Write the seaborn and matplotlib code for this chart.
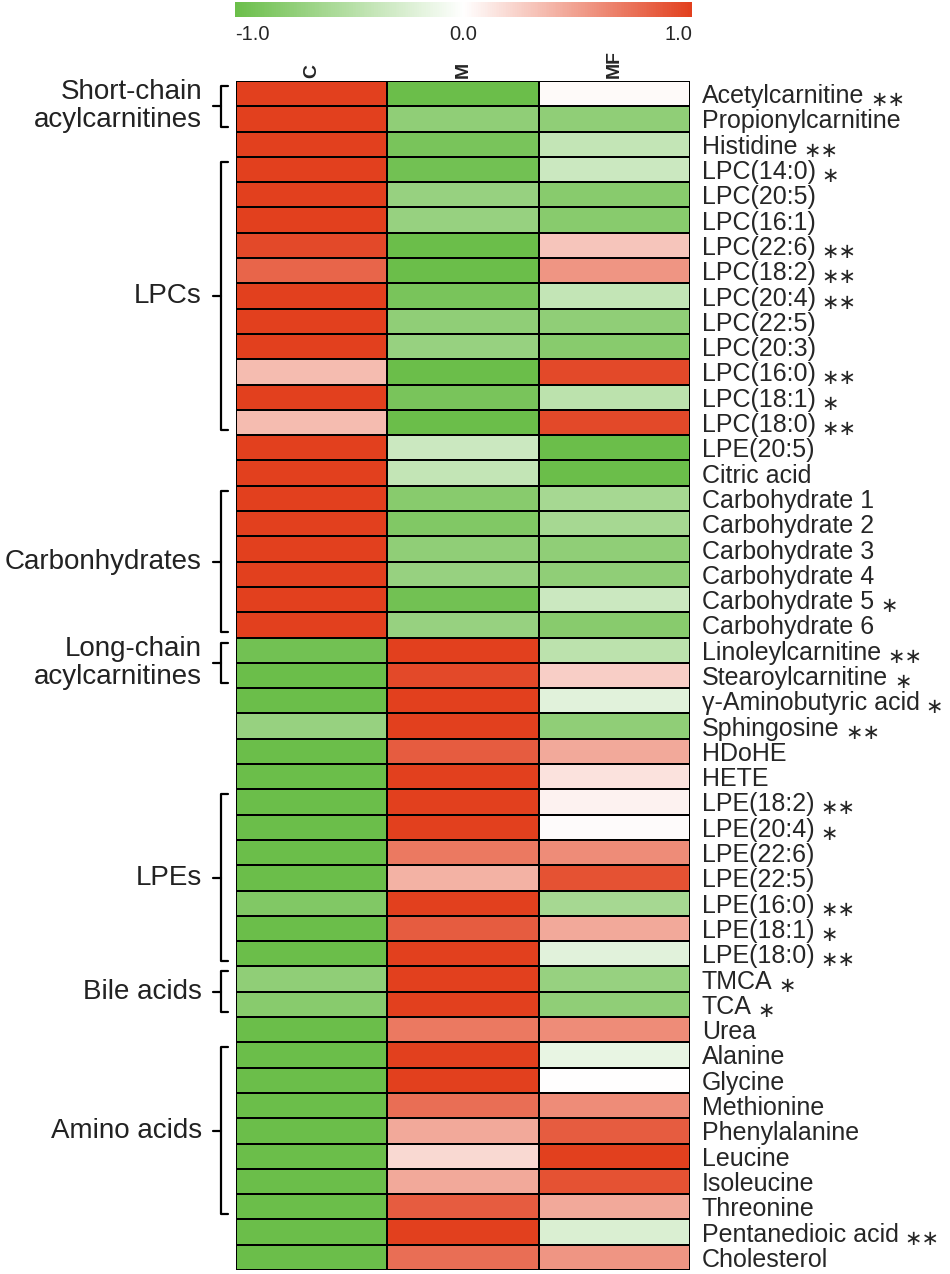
import numpy as np
import pandas as pd
import matplotlib
matplotlib.use('Agg')
import matplotlib.pyplot as plt
import seaborn as sns
from matplotlib.colors import LinearSegmentedColormap
from matplotlib.transforms import blended_transform_factory

# data
metabolites = ['Acetylcarnitine', 'Propionylcarnitine', 'Histidine', 'LPC(14:0)', 'LPC(20:5)',
               'LPC(16:1)', 'LPC(22:6)', 'LPC(18:2)', 'LPC(20:4)', 'LPC(22:5)', 'LPC(20:3)',
               'LPC(16:0)', 'LPC(18:1)', 'LPC(18:0)', 'LPE(20:5)', 'Citric acid',
               'Carbohydrate 1', 'Carbohydrate 2', 'Carbohydrate 3', 'Carbohydrate 4',
               'Carbohydrate 5', 'Carbohydrate 6', 'Linoleylcarnitine', 'Stearoylcarnitine',
               'γ-Aminobutyric acid', 'Sphingosine', 'HDoHE', 'HETE', 'LPE(18:2)', 'LPE(20:4)',
               'LPE(22:6)', 'LPE(22:5)', 'LPE(16:0)', 'LPE(18:1)', 'LPE(18:0)', 'TMCA', 'TCA',
               'Urea', 'Alanine', 'Glycine', 'Methionine', 'Phenylalanine', 'Leucine',
               'Isoleucine', 'Threonine', 'Pentanedioic acid', 'Cholesterol']

stars = ['**', '', '**', '*', '', '', '**', '**', '**', '', '', '**', '*', '**', '', '',
         '', '', '', '', '*', '', '**', '*', '*', '**', '', '', '**', '*', '', '', '**', '*',
         '**', '*', '*', '', '', '', '', '', '', '', '', '**', '']

columns = ['C', 'M', 'MF']

c_vals = [1.0, 1.0, 1.0, 1.0, 1.0, 1.0, 0.95, 0.8, 1.0, 1.0, 1.0, 0.35, 1.0, 0.35, 1.0, 1.0,
          1.0, 1.0, 1.0, 1.0, 1.0, 1.0, -0.95, -1.0, -1.0, -0.7, -1.0, -1.0, -1.0, -1.0,
          -1.0, -1.0, -0.85, -1.0, -1.0, -0.75, -0.8, -1.0, -1.0, -1.0, -1.0, -1.0, -1.0,
          -1.0, -1.0, -1.0, -1.0]
m_vals = [-1.0, -0.75, -0.9, -0.95, -0.7, -0.7, -1.0, -1.0, -0.9, -0.75, -0.7, -1.0, -0.9,
          -1.0, -0.35, -0.4, -0.8, -0.85, -0.75, -0.7, -0.95, -0.7, 1.0, 0.95, 1.0, 1.0,
          0.85, 1.0, 1.0, 1.0, 0.7, 0.4, 1.0, 0.85, 1.0, 1.0, 1.0, 0.7, 1.0, 1.0, 0.75,
          0.45, 0.2, 0.45, 0.85, 1.0, 0.75]
mf_vals = [0.03, -0.75, -0.4, -0.35, -0.8, -0.8, 0.3, 0.55, -0.4, -0.75, -0.8, 0.95, -0.45,
           0.95, -1.0, -1.0, -0.6, -0.6, -0.75, -0.75, -0.35, -0.8, -0.45, 0.25, -0.2, -0.75,
           0.45, 0.15, 0.07, 0.02, 0.6, 0.9, -0.6, 0.45, -0.2, -0.7, -0.75, 0.6, -0.15, 0.0,
           0.6, 0.85, 1.0, 0.9, 0.45, -0.25, 0.55]

groups = [('Short-chain\nacylcarnitines', 0, 1), ('LPCs', 3, 13), ('Carbonhydrates', 16, 21),
          ('Long-chain\nacylcarnitines', 22, 23), ('LPEs', 28, 34), ('Bile acids', 35, 36),
          ('Amino acids', 38, 44)]

sns.set_style('white')
plt.rcParams['font.family'] = ['Liberation Sans', 'DejaVu Sans']

W, H = 950, 1274
fig = plt.figure(figsize=(W / 100, H / 100), dpi=100)
ax = fig.add_axes([236 / W, 4 / H, 454 / W, 1189 / H])
cax = fig.add_axes([235 / W, 1257 / H, 457 / W, 15 / H])

cmap = LinearSegmentedColormap.from_list('gwr', ['#6BBE4A', '#FFFFFF', '#E2401E'])
df = pd.DataFrame({'C': c_vals, 'M': m_vals, 'MF': mf_vals}, index=metabolites)

sns.heatmap(df, ax=ax, cmap=cmap, vmin=-1, vmax=1, linewidths=1.2, linecolor='black',
            cbar_ax=cax, cbar_kws={'orientation': 'horizontal', 'ticks': [-1, 0, 1]})

# column labels on top
ax.xaxis.tick_top()
ax.set_xticklabels(columns, rotation=90, fontsize=14, fontweight='bold')
ax.tick_params(axis='x', length=0, pad=2)
# metabolite labels on the right
ax.yaxis.tick_right()
ax.set_yticklabels(metabolites, rotation=0, fontsize=18)
ax.tick_params(axis='y', length=0, pad=8.5)
ax.set_xlabel('')
ax.set_ylabel('')

# colour bar
cbar = ax.collections[0].colorbar
cbar.outline.set_visible(False)
cax.tick_params(length=0, pad=6, labelsize=14.5)
cax.set_xticklabels(['-1.0', '0.0', '1.0'])
cl = cax.get_xticklabels()
cl[0].set_ha('left')
cl[-1].set_ha('right')

# significance stars after labels
for lab, s in zip(ax.get_yticklabels(), stars):
    if s:
        ax.annotate(s.replace('*', '\u2217'), xy=(1, 0.5), xycoords=lab, xytext=(6, -4),
                    textcoords='offset pixels', ha='left', va='center', fontsize=15,
                    family='DejaVu Sans', annotation_clip=False)

# group brackets on the left
tr = blended_transform_factory(ax.transAxes, ax.transData)
x_line, x_hook, x_tick, x_text = -15 / 454, -8 / 454, -23 / 454, -34 / 454
for name, start, end in groups:
    top, bot = start + 0.2, end + 0.8
    mid = (start + end + 1) / 2
    ax.plot([x_hook, x_line, x_line, x_hook], [top, top, bot, bot], transform=tr,
            color='black', lw=1.6, clip_on=False, solid_joinstyle='round')
    ax.plot([x_tick, x_line], [mid, mid], transform=tr, color='black', lw=1.6, clip_on=False)
    ax.text(x_text, mid, name, transform=tr, ha='right', va='center', fontsize=20,
            linespacing=1.1, color='#222222')

fig.savefig('out.png', dpi=100)
